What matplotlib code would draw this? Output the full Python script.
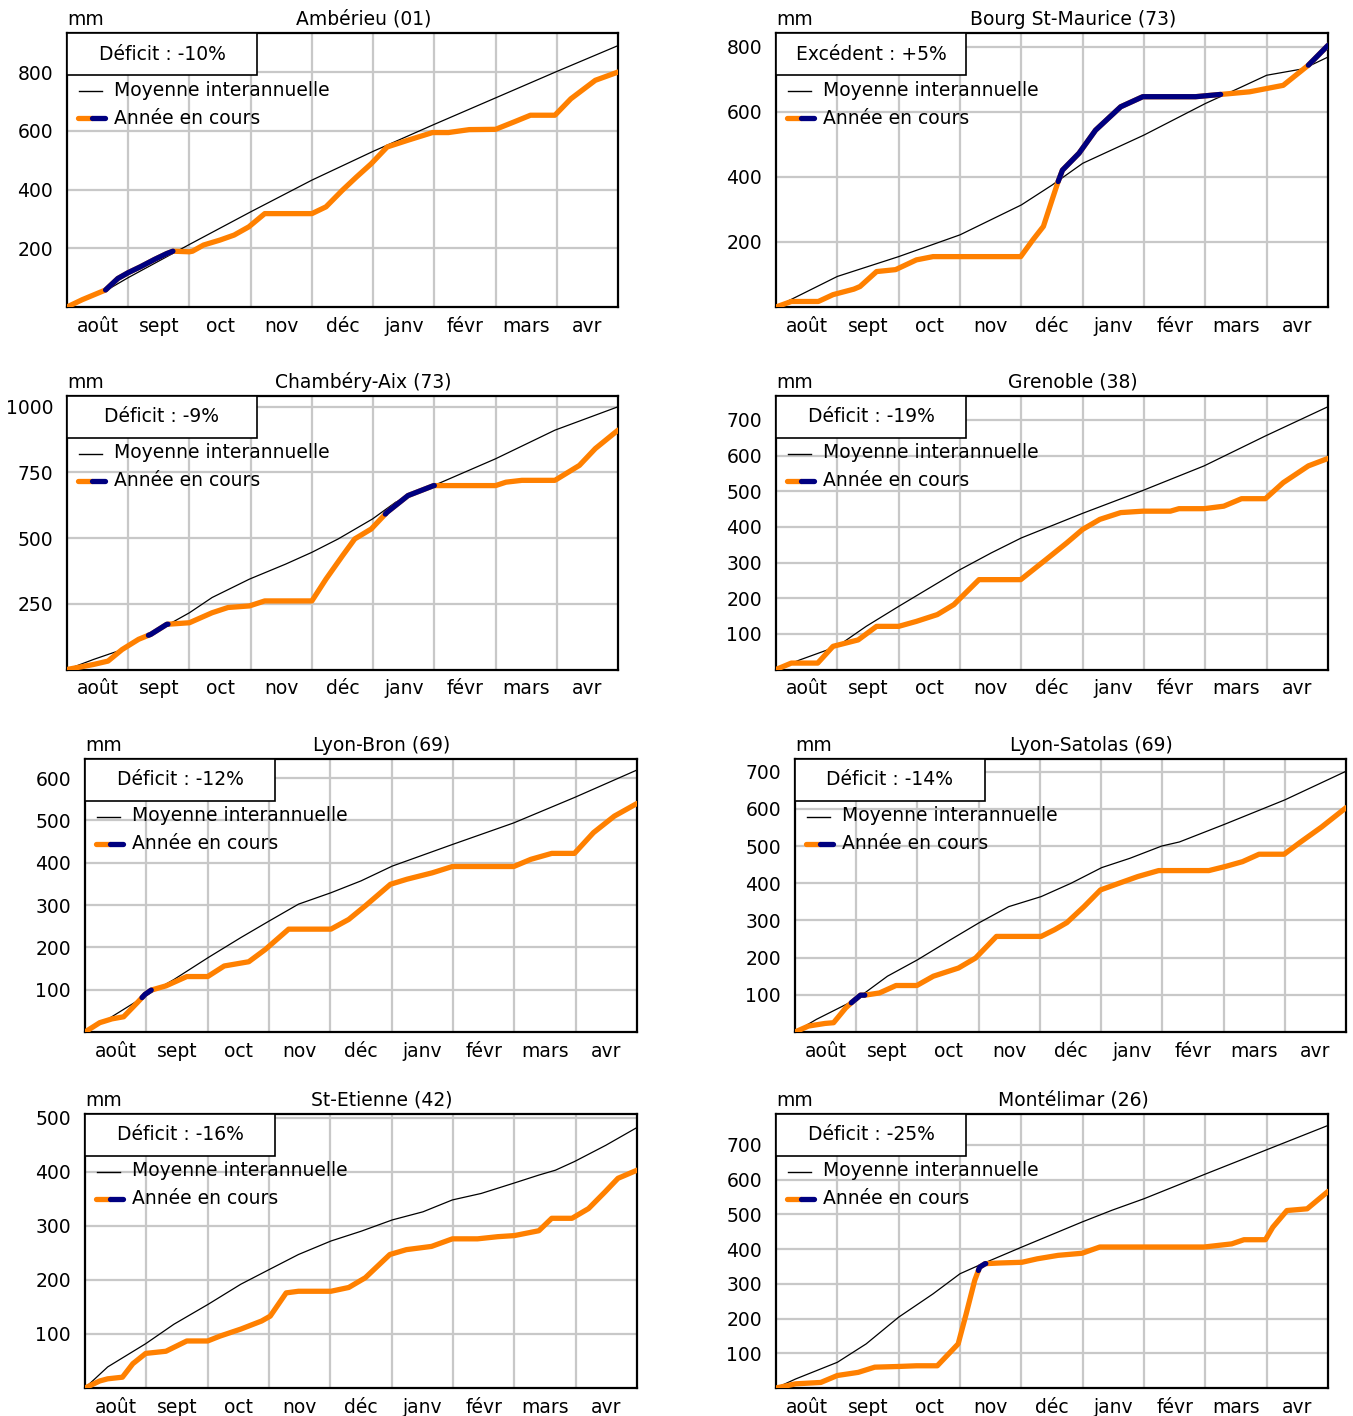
import numpy as np
import matplotlib
matplotlib.use('Agg')
import matplotlib.pyplot as plt
from matplotlib.patches import Rectangle

plt.rcParams['font.family'] = ['DejaVu Sans']

months = ['août', 'sept', 'oct', 'nov', 'déc', 'janv', 'févr', 'mars', 'avr']

# ---------------- Ambérieu (01)
amb_norm_x = [0, 0.63, 1.0, 1.77, 2.0, 3.0, 4.0, 5.0, 6.0, 7.0, 8.0, 9.0]
amb_norm_y = [0, 55, 100, 187, 213, 324, 432, 530, 622, 712, 802, 890]
amb_cur_x = [0, 0.25, 0.63, 0.83, 1.0, 1.2, 1.43, 1.63, 1.73, 2.0, 2.05, 2.23, 2.5, 2.73, 2.97,
             3.23, 3.57, 4.0, 4.23, 4.5, 4.73, 4.97, 5.23, 5.57, 5.97, 6.23, 6.57, 7.0, 7.3,
             7.57, 7.97, 8.23, 8.63, 9.0]
amb_cur_y = [0, 25, 58, 97, 117, 137, 162, 182, 190, 188, 190, 211, 228, 245, 273,
             318, 318, 318, 341, 398, 443, 488, 545, 568, 594, 594, 604, 605, 630,
             653, 653, 709, 772, 800]
amb_blue = [(0.63, 1.73)]
amb_yticks = [200, 400, 600, 800]

# ---------------- Bourg St-Maurice (73)
bsm_norm_x = [0, 1.0, 2.0, 3.0, 4.0, 4.5, 5.0, 6.0, 7.0, 7.59, 8.0, 8.6, 9.0]
bsm_norm_y = [0, 94, 155, 222, 314, 375, 442, 529, 626, 677, 713, 733, 769]
bsm_cur_x = [0, 0.25, 0.69, 0.93, 1.27, 1.37, 1.64, 1.95, 2.29, 2.56, 2.97, 3.99, 4.19, 4.36,
             4.5, 4.6, 4.67, 4.94, 5.21, 5.62, 5.98, 6.23, 6.84, 7.25, 7.72, 8.27, 8.68, 9.0]
bsm_cur_y = [0, 17, 17, 38, 55, 63, 109, 115, 145, 155, 155, 155, 207, 248,
             329, 386, 421, 473, 544, 616, 647, 647, 647, 654, 662, 682, 744, 805]
bsm_blue = [(4.6, 7.25), (8.68, 9.0)]
bsm_yticks = [200, 400, 600, 800]

# ---------------- Chambéry-Aix (73)
cha_norm_x = [0, 0.43, 0.83, 1.17, 1.57, 2.0, 2.37, 2.98, 3.57, 4.0, 4.43, 4.99, 5.37, 5.99,
              7.0, 7.97, 9.0]
cha_norm_y = [0, 38, 70, 115, 160, 216, 274, 344, 401, 446, 497, 573, 637, 700,
              802, 911, 1000]
cha_cur_x = [0, 0.43, 0.67, 0.9, 1.17, 1.37, 1.63, 2.0, 2.37, 2.63, 2.98, 3.23, 4.0, 4.23,
             4.5, 4.7, 4.97, 5.23, 5.57, 5.99, 7.0, 7.17, 7.43, 7.97, 8.37, 8.63, 9.0]
cha_cur_y = [0, 19, 32, 76, 115, 134, 172, 178, 216, 236, 242, 261, 261, 344,
             433, 497, 535, 599, 662, 700, 700, 713, 720, 720, 777, 841, 911]
cha_blue = [(1.33, 1.65), (5.2, 6.0)]
cha_yticks = [250, 500, 750, 1000]

# ---------------- Grenoble (38)
gre_norm_x = [0, 0.39, 1.0, 1.47, 2.0, 3.0, 3.51, 4.0, 5.0, 5.98, 6.98, 7.98, 9.0]
gre_norm_y = [0, 27, 65, 121, 177, 280, 327, 369, 438, 502, 571, 655, 737]
gre_cur_x = [0, 0.25, 0.68, 0.93, 1.34, 1.64, 2.0, 2.29, 2.63, 2.9, 3.31, 3.99, 4.4, 4.74,
             5.0, 5.28, 5.62, 5.98, 6.43, 6.57, 6.98, 7.3, 7.59, 7.98, 8.27, 8.68, 9.0]
gre_cur_y = [0, 18, 18, 65, 83, 121, 121, 135, 154, 182, 252, 252, 308, 355,
             393, 421, 440, 444, 444, 451, 451, 458, 479, 479, 524, 571, 592]
gre_blue = []
gre_yticks = [100, 200, 300, 400, 500, 600, 700]

# ---------------- Lyon-Bron (69)
lbr_norm_x = [0, 0.37, 0.98, 1.45, 2.01, 2.54, 3.0, 3.48, 4.01, 4.5, 5.01, 5.99, 6.99, 7.98, 9.0]
lbr_norm_y = [0, 30, 85, 124, 176, 223, 262, 302, 329, 357, 392, 443, 494, 554, 619]
lbr_cur_x = [0, 0.24, 0.44, 0.63, 0.85, 0.98, 1.08, 1.32, 1.66, 2.0, 2.27, 2.67, 2.94, 3.32,
             4.01, 4.3, 4.57, 4.98, 5.25, 5.66, 5.99, 6.99, 7.27, 7.61, 7.98, 8.29, 8.63, 9.0]
lbr_cur_y = [0, 22, 31, 36, 69, 89, 99, 109, 131, 131, 156, 166, 195, 243,
             243, 266, 298, 349, 361, 376, 391, 391, 408, 422, 422, 471, 510, 540]
lbr_blue = [(0.93, 1.08)]
lbr_yticks = [100, 200, 300, 400, 500, 600]

# ---------------- Lyon-Satolas (69)
lsa_norm_x = [0, 0.35, 0.99, 1.51, 2.0, 2.54, 3.0, 3.49, 4.02, 4.51, 5.01, 5.47, 5.99, 6.28,
              7.01, 8.0, 9.0]
lsa_norm_y = [0, 34, 87, 150, 194, 248, 293, 337, 364, 400, 442, 467, 500, 511,
              558, 624, 701]
lsa_cur_x = [0, 0.22, 0.49, 0.63, 0.83, 0.93, 1.07, 1.14, 1.38, 1.65, 1.99, 2.26, 2.67, 2.95,
             3.29, 4.02, 4.24, 4.44, 4.72, 4.99, 5.26, 5.6, 5.94, 6.76, 7.03, 7.31, 7.58,
             7.99, 8.26, 8.6, 9.0]
lsa_cur_y = [0, 16, 23, 25, 65, 80, 99, 99, 105, 125, 125, 150, 172, 199,
             257, 257, 275, 294, 337, 382, 398, 418, 434, 434, 445, 458, 478,
             478, 511, 551, 603]
lsa_blue = [(0.92, 1.14)]
lsa_yticks = [100, 200, 300, 400, 500, 600, 700]

# ---------------- St-Etienne (42)
ste_norm_x = [0, 0.37, 0.99, 1.45, 2.01, 2.54, 3.0, 3.48, 4.01, 4.5, 5.01, 5.51, 5.99, 6.46,
              6.99, 7.4, 7.67, 7.98, 8.49, 9.0]
ste_norm_y = [0, 39, 82, 118, 155, 192, 219, 247, 272, 290, 311, 326, 348, 360,
              379, 394, 403, 419, 449, 482]
ste_cur_x = [0, 0.24, 0.37, 0.61, 0.78, 0.99, 1.32, 1.66, 2.0, 2.2, 2.54, 2.88, 3.02, 3.28,
             3.48, 4.01, 4.3, 4.57, 4.97, 5.24, 5.65, 5.99, 6.4, 6.73, 7.0, 7.4, 7.61,
             7.94, 8.21, 8.48, 8.69, 9.0]
ste_cur_y = [0, 13, 17, 20, 45, 64, 68, 87, 87, 96, 109, 124, 133, 176,
             179, 179, 186, 204, 247, 256, 262, 276, 276, 280, 282, 291, 314,
             314, 332, 363, 388, 403]
ste_blue = []
ste_yticks = [100, 200, 300, 400, 500]

# ---------------- Montélimar (26)
mon_norm_x = [0, 0.32, 1.0, 1.47, 2.0, 2.56, 3.0, 3.33, 4.01, 4.99, 5.48, 6.0, 7.0, 8.0, 9.0]
mon_norm_y = [0, 26, 74, 127, 204, 271, 329, 355, 406, 478, 512, 545, 616, 686, 756]
mon_cur_x = [0, 0.32, 0.73, 1.0, 1.34, 1.61, 2.0, 2.29, 2.63, 2.97, 3.1, 3.24, 3.32, 3.41,
             3.65, 4.01, 4.26, 4.6, 4.99, 5.28, 5.98, 6.98, 7.43, 7.63, 7.98, 8.1, 8.33,
             8.66, 9.0]
mon_cur_y = [0, 12, 16, 36, 45, 60, 62, 64, 64, 127, 213, 310, 348, 358,
             360, 362, 372, 382, 388, 406, 406, 406, 415, 427, 427, 463, 511,
             516, 566]
mon_blue = [(3.3, 3.42)]
mon_yticks = [100, 200, 300, 400, 500, 600, 700]

titles = ['Ambérieu (01)', 'Bourg St-Maurice (73)', 'Chambéry-Aix (73)', 'Grenoble (38)',
          'Lyon-Bron (69)', 'Lyon-Satolas (69)', 'St-Etienne (42)', 'Montélimar (26)']
ecarts = ['Déficit : -10%', 'Excédent : +5%', 'Déficit : -9%', 'Déficit : -19%',
          'Déficit : -12%', 'Déficit : -14%', 'Déficit : -16%', 'Déficit : -25%']
ymax = [933, 843, 1041, 767, 645, 734, 507, 789]

series = [
    (amb_norm_x, amb_norm_y, amb_cur_x, amb_cur_y, amb_blue, amb_yticks),
    (bsm_norm_x, bsm_norm_y, bsm_cur_x, bsm_cur_y, bsm_blue, bsm_yticks),
    (cha_norm_x, cha_norm_y, cha_cur_x, cha_cur_y, cha_blue, cha_yticks),
    (gre_norm_x, gre_norm_y, gre_cur_x, gre_cur_y, gre_blue, gre_yticks),
    (lbr_norm_x, lbr_norm_y, lbr_cur_x, lbr_cur_y, lbr_blue, lbr_yticks),
    (lsa_norm_x, lsa_norm_y, lsa_cur_x, lsa_cur_y, lsa_blue, lsa_yticks),
    (ste_norm_x, ste_norm_y, ste_cur_x, ste_cur_y, ste_blue, ste_yticks),
    (mon_norm_x, mon_norm_y, mon_cur_x, mon_cur_y, mon_blue, mon_yticks),
]

# axes boxes in pixels (left, top, right, bottom)
FW, FH = 1353, 1416
boxes = [(67, 33, 618, 307), (776, 33, 1328, 307),
         (67, 396, 618, 669.5), (776, 396, 1328, 669.5),
         (85, 759, 637, 1032), (795, 759, 1346, 1032),
         (85, 1114, 637, 1388), (776, 1114, 1328, 1388)]

ORANGE = '#FF8000'
BLUE = '#000080'
GRID = '#C8C8C8'
FS = 13.5

fig = plt.figure(figsize=(FW / 100, FH / 100), dpi=100)

for i, (nx, ny, cx, cy, blue, yt) in enumerate(series):
    l, t, r, b = boxes[i]
    W, H = r - l, b - t
    ax = fig.add_axes([l / FW, 1 - b / FH, W / FW, H / FH])
    ax.set_xlim(0, 9)
    ax.set_ylim(0, ymax[i])
    ax.set_axisbelow(True)

    ax.set_xticks(np.arange(9) + 0.5)
    ax.set_xticklabels(months, fontsize=FS)
    ax.set_xticks(np.arange(1, 9), minor=True)
    ax.set_yticks(yt)
    ax.set_yticklabels([str(v) for v in yt], fontsize=FS)
    ax.tick_params(which='both', length=0)
    ax.tick_params(axis='x', pad=7)
    ax.tick_params(axis='y', pad=10)
    ax.grid(True, axis='x', which='minor', color=GRID, lw=1.6)
    ax.grid(True, axis='y', which='major', color=GRID, lw=1.6)
    ax.grid(False, axis='x', which='major')
    for s in ax.spines.values():
        s.set_linewidth(1.6)
        s.set_color('black')

    nx_a, ny_a = np.array(nx, float), np.array(ny, float)
    cx_a, cy_a = np.array(cx, float), np.array(cy, float)

    ax.plot(nx_a, ny_a, color='black', lw=0.9, zorder=3)
    ax.plot(cx_a, cy_a, color=ORANGE, lw=3.8, solid_capstyle='round',
            solid_joinstyle='round', zorder=4)
    for a, bb in blue:
        xs = np.concatenate([[a], cx_a[(cx_a > a) & (cx_a < bb)], [bb]])
        ax.plot(xs, np.interp(xs, cx_a, cy_a), color=BLUE, lw=3.8,
                solid_capstyle='round', solid_joinstyle='round', zorder=5)

    # title and unit
    ax.annotate(titles[i], xy=(0.538, 1), xycoords='axes fraction', xytext=(0, 6),
                textcoords='offset points', ha='center', va='baseline', fontsize=FS)
    ax.annotate('mm', xy=(0, 1), xycoords='axes fraction', xytext=(0, 6),
                textcoords='offset points', ha='left', va='baseline', fontsize=FS)

    # legend
    ax.add_patch(Rectangle((0, 1 - 42 / H), 190 / W, 42 / H, transform=ax.transAxes,
                           facecolor='white', edgecolor='black', lw=1.2, zorder=6,
                           clip_on=False))
    ax.text(95 / W, 1 - 21 / H, ecarts[i], transform=ax.transAxes, ha='center',
            va='center', fontsize=FS, zorder=7)
    ax.plot([12 / W, 35 / W], [1 - 58 / H] * 2, transform=ax.transAxes, color='black',
            lw=1.0, zorder=7)
    ax.text(47 / W, 1 - 57 / H, 'Moyenne interannuelle', transform=ax.transAxes,
            ha='left', va='center', fontsize=FS, zorder=7)
    ax.plot([11 / W, 25 / W], [1 - 85 / H] * 2, transform=ax.transAxes, color=ORANGE,
            lw=3.8, solid_capstyle='round', zorder=7)
    ax.plot([25 / W, 38 / W], [1 - 85 / H] * 2, transform=ax.transAxes, color=BLUE,
            lw=3.8, solid_capstyle='round', zorder=8)
    ax.text(47 / W, 1 - 85 / H, 'Année en cours', transform=ax.transAxes,
            ha='left', va='center', fontsize=FS, zorder=7)

fig.savefig('out.png', dpi=100)
